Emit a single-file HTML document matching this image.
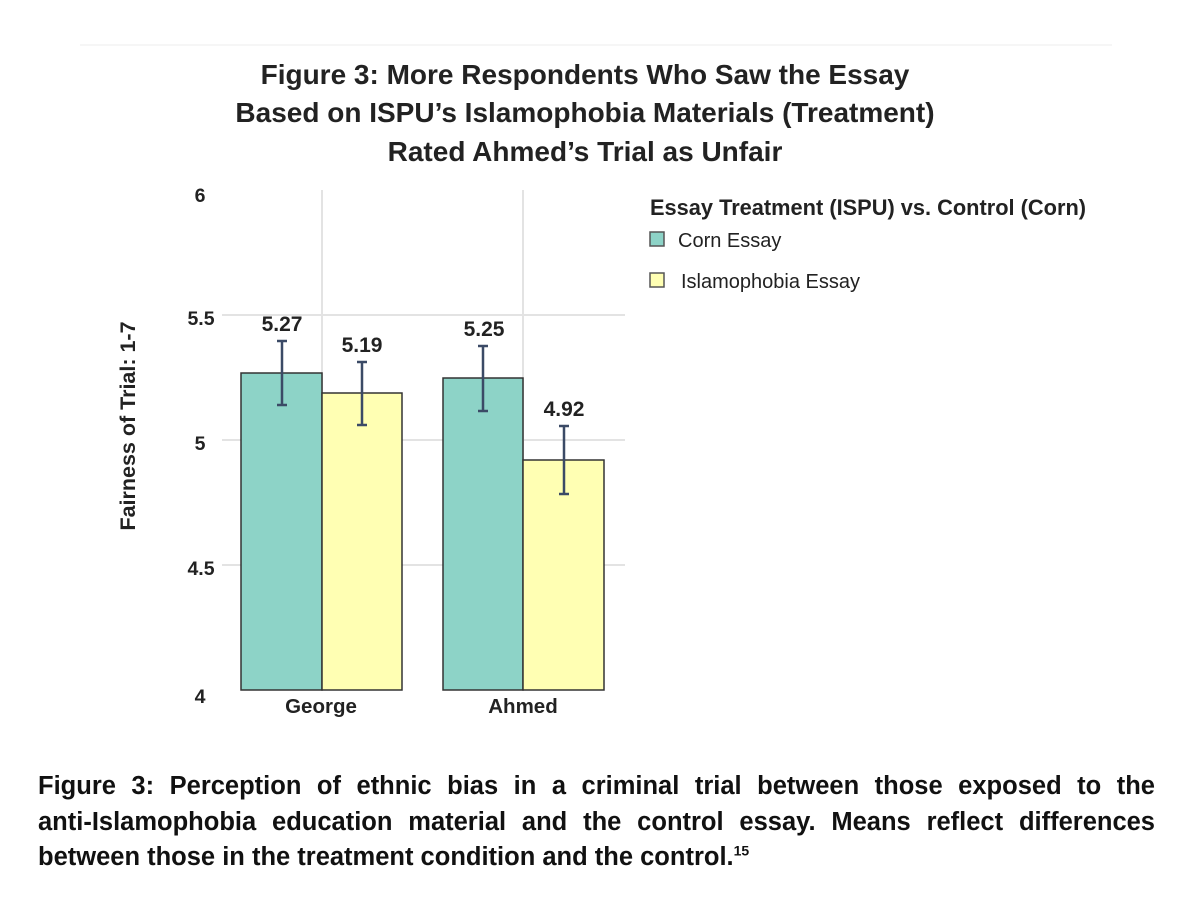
<!DOCTYPE html>
<html><head><meta charset="utf-8"><style>
body{margin:0;background:#fff;width:1200px;height:916px;overflow:hidden;position:relative}
svg{display:block}
text{font-family:"Liberation Sans",Arial,sans-serif}
.cap{position:absolute;left:38px;width:1117px;font:bold 25.5px/30px "Liberation Sans",Arial,sans-serif;color:#111;white-space:nowrap}
.j{text-align:justify;text-align-last:justify}
</style></head><body>
<svg width="1200" height="916" viewBox="0 0 1200 916">
<line x1="80" y1="45" x2="1112" y2="45" stroke="#eee" stroke-width="1"/>
<g font-weight="bold" font-size="28" text-anchor="middle" fill="#222">
<text x="585" y="84">Figure 3: More Respondents Who Saw the Essay</text>
<text x="585" y="122">Based on ISPU’s Islamophobia Materials (Treatment)</text>
<text x="585" y="161">Rated Ahmed’s Trial as Unfair</text>
</g>
<g stroke="#e3e3e3" stroke-width="2">
<line x1="222" y1="315" x2="625" y2="315"/>
<line x1="222" y1="440" x2="625" y2="440"/>
<line x1="222" y1="565" x2="625" y2="565"/>
<line x1="322" y1="190" x2="322" y2="690"/>
<line x1="523" y1="190" x2="523" y2="690"/>
</g>
<g font-weight="bold" font-size="19.5" fill="#222" text-anchor="middle">
<text x="200" y="202">6</text>
<text x="201" y="325">5.5</text>
<text x="200" y="450">5</text>
<text x="201" y="575">4.5</text>
<text x="200" y="703">4</text>
<text x="321" y="713" font-size="20.5">George</text>
<text x="523" y="713" font-size="20.5">Ahmed</text>
<text transform="translate(135,426) rotate(-90)" font-size="21.5">Fairness of Trial: 1-7</text>
</g>
<g stroke="#333" stroke-width="1.5">
<rect x="241" y="373" width="81" height="317" fill="#8dd3c7"/>
<rect x="322" y="393" width="80" height="297" fill="#ffffb3"/>
<rect x="443" y="378" width="80" height="312" fill="#8dd3c7"/>
<rect x="523" y="460" width="81" height="230" fill="#ffffb3"/>
</g>
<g stroke="#3b4a66" stroke-width="2.5">
<path d="M282 341V405M277 341H287M277 405H287"/>
<path d="M362 362V425M357 362H367M357 425H367"/>
<path d="M483 346V411M478 346H488M478 411H488"/>
<path d="M564 426V494M559 426H569M559 494H569"/>
</g>
<g font-weight="bold" font-size="21" fill="#222" text-anchor="middle">
<text x="282" y="331">5.27</text>
<text x="362" y="352">5.19</text>
<text x="484" y="336">5.25</text>
<text x="564" y="416">4.92</text>
</g>
<text x="650" y="215" font-weight="bold" font-size="21.8" fill="#222">Essay Treatment (ISPU) vs. Control (Corn)</text>
<rect x="650" y="232" width="14" height="14" fill="#8dd3c7" stroke="#555" stroke-width="1.5"/>
<text x="678" y="247" font-size="20" fill="#222">Corn Essay</text>
<rect x="650" y="273" width="14" height="14" fill="#ffffb3" stroke="#555" stroke-width="1.5"/>
<text x="681" y="288" font-size="20" fill="#222">Islamophobia Essay</text>
</svg>
<div class="cap j" style="top:771px">Figure 3: Perception of ethnic bias in a criminal trial between those exposed to the</div>
<div class="cap j" style="top:807px">anti-Islamophobia education material and the control essay. Means reflect differences</div>
<div class="cap" style="top:842px">between those in the treatment condition and the control.<sup style="font-size:14px;line-height:0">15</sup></div>
</body></html>
